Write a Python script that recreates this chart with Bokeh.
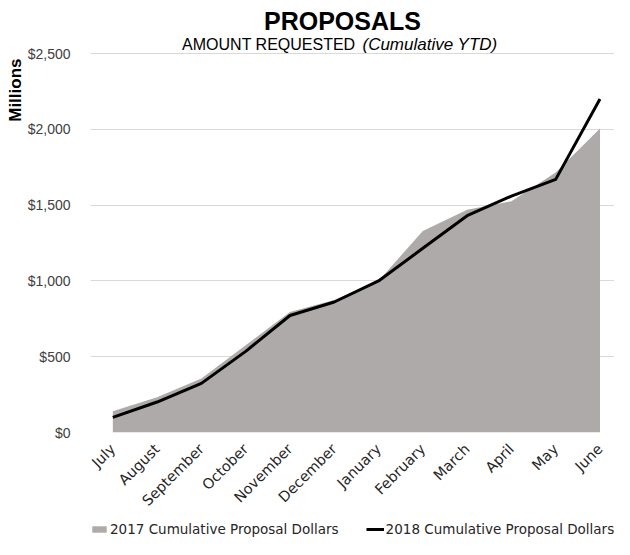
import math
from bokeh.plotting import figure
from bokeh.layouts import column
from bokeh.models import (Range1d, FixedTicker, NumeralTickFormatter, Label, Title,
                          Legend, LegendItem, ColumnDataSource)
from bokeh.embed import file_html
from bokeh.resources import INLINE

months = ["July", "August", "September", "October", "November", "December",
          "January", "February", "March", "April", "May", "June"]
proposals_2017 = [140, 233, 356, 575, 795, 874, 1000, 1330, 1470, 1525, 1715, 2005]
proposals_2018 = [100, 201, 324, 535, 772, 861, 1000, 1215, 1430, 1560, 1670, 2200]
y_ticks = [0, 500, 1000, 1500, 2000, 2500]
label_2017 = "2017 Cumulative Proposal Dollars"
label_2018 = "2018 Cumulative Proposal Dollars"

AREA_COLOR = "#AEAAAA"
NAN = float("nan")

idx = list(range(len(months)))
src = ColumnDataSource(dict(x=idx, m=months, y17=proposals_2017, y18=proposals_2018,
                            zero=[0] * len(months)))

p = figure(width=614, height=517, output_backend="svg", toolbar_location=None,
           x_range=Range1d(-0.504, 11.328), y_range=Range1d(0, 2850),
           min_border_left=90, min_border_right=0, min_border_top=0,
           min_border_bottom=77)
p.outline_line_color = None
p.background_fill_color = "white"
p.border_fill_color = "white"

area = p.varea(x="x", y1="zero", y2="y17", source=src, fill_color=AREA_COLOR)
line = p.line(x="x", y="y18", source=src, line_color="black", line_width=3,
              line_join="round")

p.xgrid.visible = False
p.ygrid.grid_line_color = "#D9D9D9"
p.ygrid.grid_line_width = 1

p.yaxis.ticker = FixedTicker(ticks=y_ticks)
p.yaxis.formatter = NumeralTickFormatter(format="$0,0")
p.yaxis.axis_line_color = None
p.yaxis.major_tick_line_color = None
p.yaxis.minor_tick_line_color = None
p.yaxis.major_label_standoff = 14
p.yaxis.major_label_text_font = "Liberation Sans"
p.yaxis.major_label_text_font_size = "14px"
p.yaxis.major_label_text_color = "#404040"

p.xaxis.ticker = FixedTicker(ticks=idx)
p.xaxis.major_label_overrides = {i: m for i, m in enumerate(months)}
p.xaxis.major_label_orientation = math.pi / 4
p.xaxis.axis_line_color = None
p.xaxis.major_tick_line_color = None
p.xaxis.minor_tick_line_color = None
p.xaxis.major_label_standoff = 8
p.xaxis.major_label_text_font = "DejaVu Sans"
p.xaxis.major_label_text_font_size = "14.5px"
p.xaxis.major_label_text_color = "#262626"

p.add_layout(Label(x=5.186, y=2713, text="PROPOSALS", text_align="center",
                   text_baseline="middle", text_font="Liberation Sans",
                   text_font_style="bold", text_font_size="25px",
                   text_color="black"))
p.add_layout(Label(x=5.479, y=2558, text="AMOUNT REQUESTED",
                   text_align="right", text_baseline="middle",
                   text_font="Liberation Sans", text_font_size="16px",
                   text_color="black"))
p.add_layout(Label(x=5.637, y=2558, text="(Cumulative YTD)",
                   text_align="left", text_baseline="middle",
                   text_font="Liberation Sans", text_font_style="italic",
                   text_font_size="17px", text_color="black"))

p.add_layout(Title(text="Millions", align="right", offset=58, standoff=0,
                   text_font="Liberation Sans",
                   text_font_style="bold", text_font_size="17px",
                   text_color="black"), "left")

# legend strip
pl = figure(width=614, height=22, output_backend="svg", toolbar_location=None,
            x_range=Range1d(0, 1), y_range=Range1d(0, 1),
            x_axis_type=None, y_axis_type=None,
            min_border_left=0, min_border_right=0, min_border_top=0,
            min_border_bottom=0)
pl.outline_line_color = None
pl.xgrid.visible = False
pl.ygrid.visible = False
leg_area = pl.varea(x=[NAN], y1=[NAN], y2=[NAN], fill_color=AREA_COLOR)
leg_line = pl.line(x=[NAN], y=[NAN], line_color="black", line_width=3)

legend = Legend(items=[LegendItem(label=label_2017, renderers=[leg_area]),
                       LegendItem(label=label_2018, renderers=[leg_line])],
                orientation="horizontal", location=(0, 2), spacing=27,
                glyph_width=18, glyph_height=8, label_standoff=2, padding=0,
                margin=0, border_line_alpha=0, background_fill_alpha=0,
                label_text_font="DejaVu Sans", label_text_font_size="13.5px",
                label_text_color="#262626")
pl.add_layout(legend)

layout = column(p, pl, spacing=0)
open("out.html", "w").write(file_html(layout, INLINE))
